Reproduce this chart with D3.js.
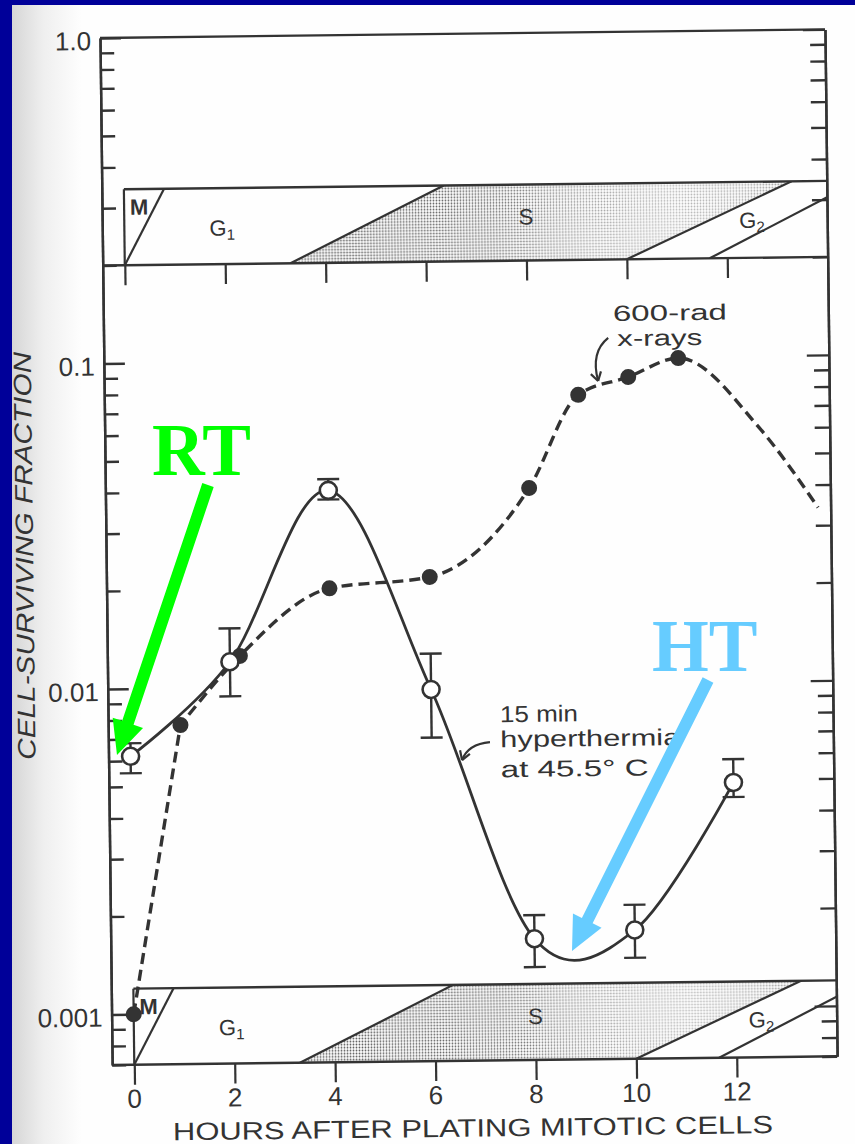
<!DOCTYPE html>
<html>
<head>
<meta charset="utf-8">
<script src="https://cdn.jsdelivr.net/npm/d3@7"></script>
<style>
  html, body { margin: 0; padding: 0; background: #000099; }
  svg { display: block; }
</style>
</head>
<body>
<svg id="fig" width="855" height="1144"></svg>
<script>
// Survival of synchronized cells vs. time after plating mitotic cells:
// 600-rad x-rays (filled, dashed) and 15 min hyperthermia at 45.5 °C (open, solid).

const hourTicks = [0, 2, 4, 6, 8, 10, 12];
const majorTicks = [1, 0.1, 0.01, 0.001];
const majorLabels = ["1.0", "0.1", "0.01", "0.001"];
const minorTicks = [0.9, 0.8, 0.7, 0.6, 0.5, 0.4, 0.3, 0.2,
                    0.09, 0.08, 0.07, 0.06, 0.05, 0.04, 0.03, 0.02,
                    0.009, 0.008, 0.007, 0.006, 0.005, 0.004, 0.003, 0.002,
                    0.0009, 0.0008, 0.0007];

// 600-rad x-rays
const xrayHours = [0, 1, 2.2, 4, 6, 8, 9, 10, 11];
const xraySurvival = [0.001, 0.0077, 0.0125, 0.020, 0.0215, 0.040, 0.077, 0.087, 0.099];
// hand-drawn continuation of the x-ray curve beyond the last point
const xrayTrendHours = [12.6, 13.75];
const xrayTrendSurvival = [0.060, 0.034];

// 15 min hyperthermia at 45.5 °C
const heatHours = [0, 2, 4, 6, 8, 10, 12];
const heatSurvival = [0.0062, 0.012, 0.040, 0.0097, 0.00165, 0.00174, 0.0049];
const heatLow = [0.0055, 0.0094, 0.0375, 0.0069, 0.00135, 0.00143, 0.00442];
const heatHigh = [0.0068, 0.0152, 0.0433, 0.0125, 0.00195, 0.00208, 0.00578];

// cell-cycle phase bands: boundary hours at the bottom and top edge of each band
const phaseNames = ["M", "G", "S", "G"];
const phaseSubs = ["", "1", "", "2"];
const phaseLabelHours = [0.3, 1.95, 8.0, 12.5];
const phaseLabelLevel = [0.26, 0.55, 0.45, 0.53];
const boundaryBottom = [0, 3.3, 10.0, 11.65];
const boundaryTop = [0.8, 6.37, 13.3, 14.65];

const ink = "#333";
const W = 725, H = 1027;
const bandH = 76;

const svg = d3.select("#fig");
const defs = svg.append("defs");

// scanned page with a shaded binding edge
const pg = defs.append("linearGradient").attr("id", "pageEdge")
  .attr("x1", 0).attr("x2", 1).attr("y1", 0).attr("y2", 0);
pg.append("stop").attr("offset", 0).attr("stop-color", "#d6d6d6");
pg.append("stop").attr("offset", 0.45).attr("stop-color", "#efefef");
pg.append("stop").attr("offset", 1).attr("stop-color", "#fefefe");

svg.append("rect").attr("x", 12).attr("y", 5).attr("width", 843).attr("height", 1139).attr("fill", "#fefefe");
svg.append("rect").attr("x", 12).attr("y", 5).attr("width", 70).attr("height", 1139).attr("fill", "url(#pageEdge)");

const x = d3.scaleLinear().domain([-0.44, 14]).range([0, W]);
const y = d3.scaleLog().domain([0.0007, 1]).range([H, 0]);

// stipple for the S phase
const pat = defs.append("pattern").attr("id", "stipple")
  .attr("patternUnits", "userSpaceOnUse").attr("width", 3).attr("height", 3);
pat.append("circle").attr("cx", 1.5).attr("cy", 1.5).attr("r", 0.9).attr("fill", "#555");

const fade = defs.append("linearGradient").attr("id", "stippleFade")
  .attr("gradientUnits", "userSpaceOnUse")
  .attr("x1", x(3.3)).attr("x2", x(13.3)).attr("y1", 0).attr("y2", 0);
[[0, "#ffffff"], [0.4, "#e0e0e0"], [0.6, "#8a8a8a"], [0.78, "#666"], [1, "#999"]]
  .forEach(([o, c]) => fade.append("stop").attr("offset", o).attr("stop-color", c));
defs.append("mask").attr("id", "stippleMask")
  .attr("maskUnits", "userSpaceOnUse").attr("x", -50).attr("y", -50).attr("width", W + 100).attr("height", H + 100)
  .append("rect").attr("x", -50).attr("y", -50).attr("width", W + 100).attr("height", H + 100)
  .attr("fill", "url(#stippleFade)");

// plot frame (the printed figure sits slightly tilted on the page)
const g = svg.append("g").attr("transform", "translate(100,38) rotate(-0.68)");

const bands = [
  { id: "bandTop", top: y(0.2) - bandH, bottom: y(0.2), tick: 20 },
  { id: "bandBottom", top: H - bandH, bottom: H, tick: 20 }
];

bands.forEach(b => {
  defs.append("clipPath").attr("id", b.id)
    .append("rect").attr("x", x(0)).attr("y", b.top).attr("width", W - x(0)).attr("height", b.bottom - b.top);
  const bg = g.append("g");
  const clip = bg.append("g").attr("clip-path", `url(#${b.id})`);
  // S phase shading between G1/S and S/G2 boundaries
  const sPoly = [
    [x(boundaryBottom[1]), b.bottom], [x(boundaryTop[1]), b.top],
    [x(boundaryTop[2]), b.top], [x(boundaryBottom[2]), b.bottom]
  ];
  clip.append("polygon").attr("points", sPoly.map(p => p.join(",")).join(" "))
    .attr("fill", "url(#stipple)").attr("mask", "url(#stippleMask)");
  // phase boundaries
  clip.selectAll("line.bd").data(boundaryBottom).join("line")
    .attr("x1", d => x(d)).attr("y1", b.bottom)
    .attr("x2", (d, i) => x(boundaryTop[i])).attr("y2", b.top)
    .attr("stroke", ink).attr("stroke-width", 2.2);
  // band outline
  bg.append("line").attr("x1", x(0)).attr("x2", W).attr("y1", b.top).attr("y2", b.top)
    .attr("stroke", ink).attr("stroke-width", 2.4);
  bg.append("line").attr("x1", 0).attr("x2", W).attr("y1", b.bottom).attr("y2", b.bottom)
    .attr("stroke", ink).attr("stroke-width", 2.4);
  bg.append("line").attr("x1", x(0)).attr("x2", x(0)).attr("y1", b.top).attr("y2", b.bottom)
    .attr("stroke", ink).attr("stroke-width", 2.2);
  // hour ticks under the band
  const ax = bg.append("g").attr("transform", `translate(0,${b.bottom})`)
    .call(d3.axisBottom(x).tickValues(hourTicks).tickSize(b.tick).tickSizeOuter(0).tickFormat(""));
  ax.select(".domain").remove();
  ax.selectAll(".tick line").attr("stroke", ink).attr("stroke-width", 2.2);
  // phase labels
  phaseNames.forEach((n, i) => {
    const t = bg.append("text")
      .attr("x", x(phaseLabelHours[i]))
      .attr("y", b.top + phaseLabelLevel[i] * (b.bottom - b.top))
      .attr("text-anchor", "middle").attr("dominant-baseline", "middle")
      .attr("font-family", "'Liberation Sans', Arial, sans-serif")
      .attr("font-size", 22).attr("font-weight", i === 0 ? 700 : 400)
      .attr("fill", ink).text(n);
    if (phaseSubs[i]) t.append("tspan").attr("font-size", 15).attr("dy", 6).text(phaseSubs[i]);
  });
});

// frame lines
g.append("line").attr("x1", 0).attr("x2", W).attr("y1", 0).attr("y2", 0).attr("stroke", ink).attr("stroke-width", 2.4);

function styleAxis(sel) {
  sel.select(".domain").attr("stroke", ink).attr("stroke-width", 2.4);
  sel.selectAll(".tick line").attr("stroke", ink).attr("stroke-width", 2.4);
}
// left axis: ticks point inward
g.append("g").call(d3.axisRight(y).tickValues(minorTicks).tickSize(14).tickSizeOuter(0).tickFormat("")).call(styleAxis);
g.append("g").call(d3.axisRight(y).tickValues(majorTicks).tickSize(21).tickSizeOuter(0).tickFormat("")).call(styleAxis);
// right axis
g.append("g").attr("transform", `translate(${W},0)`)
  .call(d3.axisLeft(y).tickValues(minorTicks).tickSize(15).tickSizeOuter(0).tickFormat("")).call(styleAxis);
g.append("g").attr("transform", `translate(${W},0)`)
  .call(d3.axisLeft(y).tickValues(majorTicks).tickSize(22).tickSizeOuter(0).tickFormat("")).call(styleAxis);

const labelFont = "'Liberation Sans', Arial, sans-serif";
// y tick labels
g.selectAll("text.ylab").data(majorTicks).join("text")
  .attr("x", -9).attr("y", d => y(d) + 12)
  .attr("text-anchor", "end").attr("font-family", labelFont).attr("font-size", 26)
  .attr("fill", ink).text((d, i) => majorLabels[i]);
// x tick labels
g.selectAll("text.xlab").data(hourTicks).join("text")
  .attr("x", d => x(d)).attr("y", H + 43)
  .attr("text-anchor", "middle").attr("font-family", labelFont).attr("font-size", 26)
  .attr("fill", ink).text(d => d);
// axis titles
g.append("text").attr("x", 360).attr("y", H + 76)
  .attr("text-anchor", "middle").attr("font-family", labelFont).attr("font-size", 25)
  .attr("textLength", 600).attr("lengthAdjust", "spacingAndGlyphs")
  .attr("fill", ink).text("HOURS AFTER PLATING MITOTIC CELLS");
g.append("text").attr("transform", "translate(-73,517) rotate(-90)")
  .attr("text-anchor", "middle").attr("font-family", labelFont).attr("font-size", 25)
  .attr("font-style", "italic").attr("textLength", 408).attr("lengthAdjust", "spacingAndGlyphs")
  .attr("fill", ink).text("CELL-SURVIVING FRACTION");

// curves
const px = d => x(d[0]), py = d => y(d[1]);
const xrayPts = xrayHours.map((h, i) => [h, xraySurvival[i]])
  .concat(xrayTrendHours.map((h, i) => [h, xrayTrendSurvival[i]]));
const heatPts = heatHours.map((h, i) => [h, heatSurvival[i]]);

g.append("path").attr("d", d3.line(px, py).curve(d3.curveCardinal.tension(0))(heatPts))
  .attr("fill", "none").attr("stroke", ink).attr("stroke-width", 2.8);
// x-ray curve: straight rise from the mitotic point, smooth monotone trend after it
const xrayPath = d3.line(px, py)(xrayPts.slice(0, 2)) +
  d3.line(px, py).curve(d3.curveMonotoneX)(xrayPts.slice(1)).replace(/^M[^CLc]*/, "");
g.append("path").attr("d", xrayPath).attr("fill", "none")
  .attr("stroke", ink).attr("stroke-width", 3.4).attr("stroke-dasharray", "11,6");

// error bars
const eb = g.append("g").attr("stroke", ink).attr("stroke-width", 2.4);
heatHours.forEach((h, i) => {
  eb.append("line").attr("x1", x(h)).attr("x2", x(h)).attr("y1", y(heatLow[i])).attr("y2", y(heatHigh[i]));
  [heatLow[i], heatHigh[i]].forEach(v =>
    eb.append("line").attr("x1", x(h) - 11).attr("x2", x(h) + 11).attr("y1", y(v)).attr("y2", y(v)));
});

// markers
g.selectAll("circle.xr").data(xrayHours).join("circle")
  .attr("cx", d => x(d)).attr("cy", (d, i) => y(xraySurvival[i])).attr("r", 8)
  .attr("fill", ink);
g.selectAll("circle.ht").data(heatHours).join("circle")
  .attr("cx", d => x(d)).attr("cy", (d, i) => y(heatSurvival[i])).attr("r", 8.5)
  .attr("fill", "#fff").attr("stroke", ink).attr("stroke-width", 2.6);

// annotations
function note(lines, h, v, size) {
  lines.forEach(([txt, dx, dy, len]) => {
    g.append("text").attr("x", x(h) + dx).attr("y", y(v) + dy)
      .attr("font-family", labelFont).attr("font-size", size).attr("fill", ink)
      .attr("textLength", len).attr("lengthAdjust", "spacingAndGlyphs").text(txt);
  });
}
note([["600-rad", 0, -1, 114], ["x-rays", 4, 24, 85]], 9.71, 0.1285, 22);
note([["15 min", 0, 0, 78], ["hyperthermia", 0, 25, 180], ["at 45.5° C", 0, 55, 148]], 7.366, 0.00765, 23);

function curvedArrow(p0, c, p1) {
  const P0 = [x(p0[0]), y(p0[1])], C = [x(c[0]), y(c[1])], P1 = [x(p1[0]), y(p1[1])];
  g.append("path").attr("d", `M${P0}Q${C} ${P1}`).attr("fill", "none")
    .attr("stroke", ink).attr("stroke-width", 2.2);
  const ang = Math.atan2(P1[1] - C[1], P1[0] - C[0]);
  [ang + Math.PI - 0.55, ang + Math.PI + 0.55].forEach(a => {
    g.append("line").attr("x1", P1[0]).attr("y1", P1[1])
      .attr("x2", P1[0] + 10 * Math.cos(a)).attr("y2", P1[1] + 10 * Math.sin(a))
      .attr("stroke", ink).attr("stroke-width", 2.2);
  });
}
curvedArrow([9.61, 0.1149], [9.25, 0.104], [9.40, 0.0848]);
curvedArrow([7.16, 0.00665], [6.72, 0.00657], [6.60, 0.00587]);

// RT / HT call-outs
function blockArrow(s, t, color) {
  const dx = t[0] - s[0], dy = t[1] - s[1], L = Math.hypot(dx, dy);
  const ux = dx / L, uy = dy / L, qx = -uy, qy = ux;
  const w = 6, hw = 16, hl = 34;
  const bx = t[0] - hl * ux, by = t[1] - hl * uy;
  const pts = [
    [s[0] + w * qx, s[1] + w * qy], [bx + w * qx, by + w * qy], [bx + hw * qx, by + hw * qy],
    t, [bx - hw * qx, by - hw * qy], [bx - w * qx, by - w * qy], [s[0] - w * qx, s[1] - w * qy]
  ];
  svg.append("polygon").attr("points", pts.map(p => p.join(",")).join(" ")).attr("fill", color);
}
const serif = "'Liberation Serif', 'Times New Roman', serif";
svg.append("text").attr("x", 152).attr("y", 475).attr("font-family", serif).attr("font-weight", 700)
  .attr("font-size", 73).attr("fill", "#00ff00").text("RT");
blockArrow([208, 485], [117, 755], "#00ff00");
svg.append("text").attr("x", 652).attr("y", 671).attr("font-family", serif).attr("font-weight", 700)
  .attr("font-size", 73).attr("fill", "#66ccff").text("HT");
blockArrow([708, 680], [572, 951], "#66ccff");
</script>
</body>
</html>
